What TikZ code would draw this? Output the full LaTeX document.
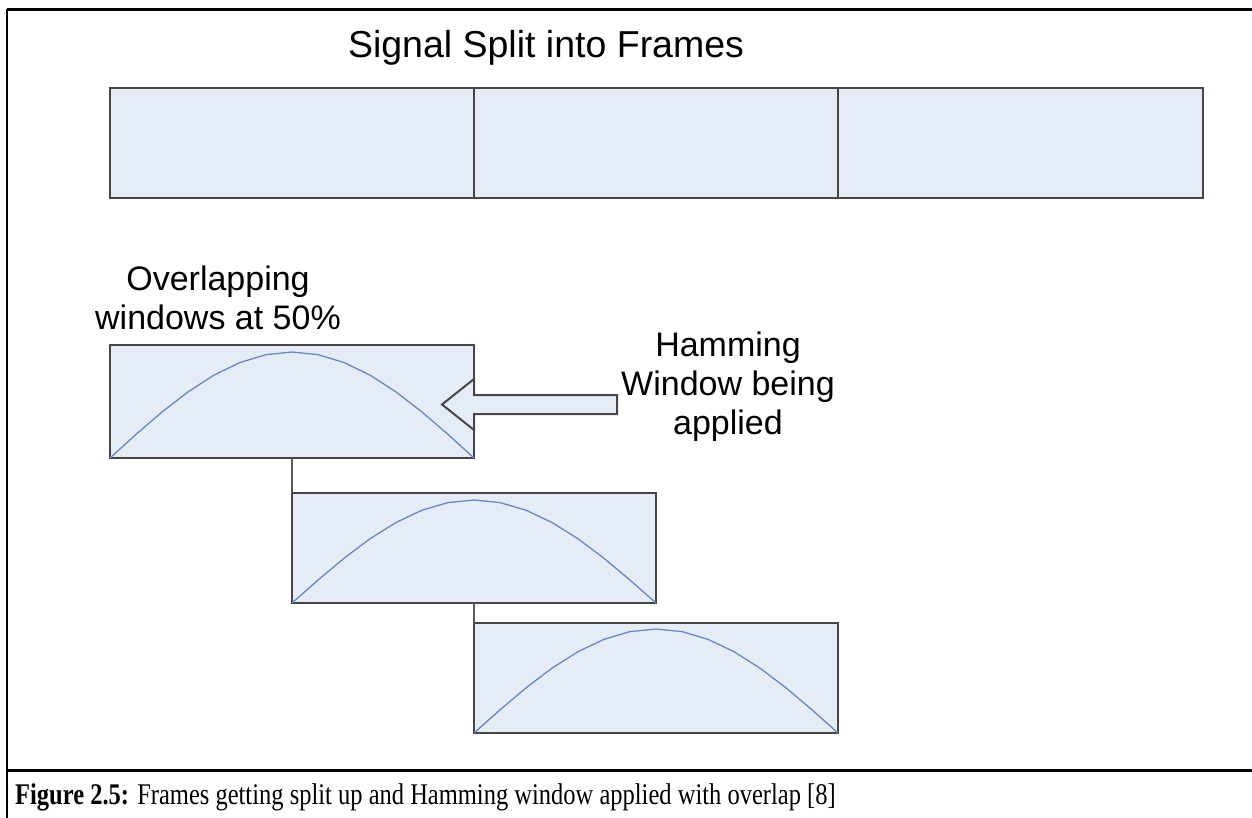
\documentclass[tikz,border=0pt]{standalone}
\usepackage{graphicx}
\usepackage{fontspec}
\setmainfont{Liberation Sans}
\newfontfamily\capfont{Liberation Serif}
\definecolor{boxfill}{RGB}{229,236,246}
\definecolor{boxline}{RGB}{70,70,70}
\definecolor{curveblue}{RGB}{105,135,190}
\definecolor{connline}{RGB}{90,90,90}
\begin{document}
\begin{tikzpicture}[x=1pt,y=-1pt,
  frm/.style={draw=boxline, fill=boxfill, line width=2pt, minimum width=364pt, minimum height=110pt, inner sep=0pt, outer sep=0pt},
  lbl/.style={font=\fontsize{34}{39}\selectfont, align=center, inner sep=0pt},
  hamm/.style={draw=curveblue, line width=1.3pt},
  conn/.style={draw=connline, line width=1.5pt},
  rulethick/.style={line width=3pt, black},
  rulethin/.style={line width=2pt, black},
  blockarrow/.style={draw=boxline, fill=boxfill, line width=2pt, line join=miter}]
\useasboundingbox (0,0) rectangle (1252,818);
% outer frame and caption rule
\draw[rulethick] (7,10) -- (1252,10);
\draw[rulethin] (7,9) -- (7,818);
\draw[rulethick] (7,770) -- (1252,770);
% title
\node[lbl, font=\fontsize{37.5}{44}\selectfont, anchor=base] (title) at (546,58) {Signal Split into Frames};
% frames
\node[frm, minimum height=110pt] (f1) at (292,143) {};
\node[frm, minimum height=110pt] (f2) at (656,143) {};
\node[frm, minimum height=110pt, minimum width=365pt] (f3) at (1020.5,143) {};
% windows
\node[frm, minimum height=113pt] (w1) at (292,401.5) {};
\node[frm, minimum height=110pt] (w2) at (474,548) {};
\node[frm, minimum height=110pt] (w3) at (656,678) {};
% connectors
\draw[conn] (w1.south) -- (w2.north west);
\draw[conn] (w2.south) -- (w3.north west);
% hamming curves
\draw[hamm] plot[domain=0:1, samples=15] ({110+364*\x}, {458-106*sin(180*\x)});
\draw[hamm] plot[domain=0:1, samples=15] ({292+364*\x}, {603-103*sin(180*\x)});
\draw[hamm] plot[domain=0:1, samples=15] ({474+364*\x}, {733-104*sin(180*\x)});
% block arrow
\draw[blockarrow] (617,395) -- (474,395) -- (474,379) -- (442,404.5) -- (474,430) -- (474,414) -- (617,414) -- cycle;
% labels
\node[lbl] (overlap) at (218,298) {Overlapping\\windows at 50\%};
\node[lbl] (hamlbl) at (728,387) {Hamming\\Window being\\applied};
% caption
\node[anchor=base west, inner sep=0pt, font=\capfont\fontsize{30}{34}\selectfont] (cap) at (15,804) {\scalebox{0.817}[1]{\textbf{Figure 2.5:} Frames getting split up and Hamming window applied with overlap [8]}};
\end{tikzpicture}
\end{document}
